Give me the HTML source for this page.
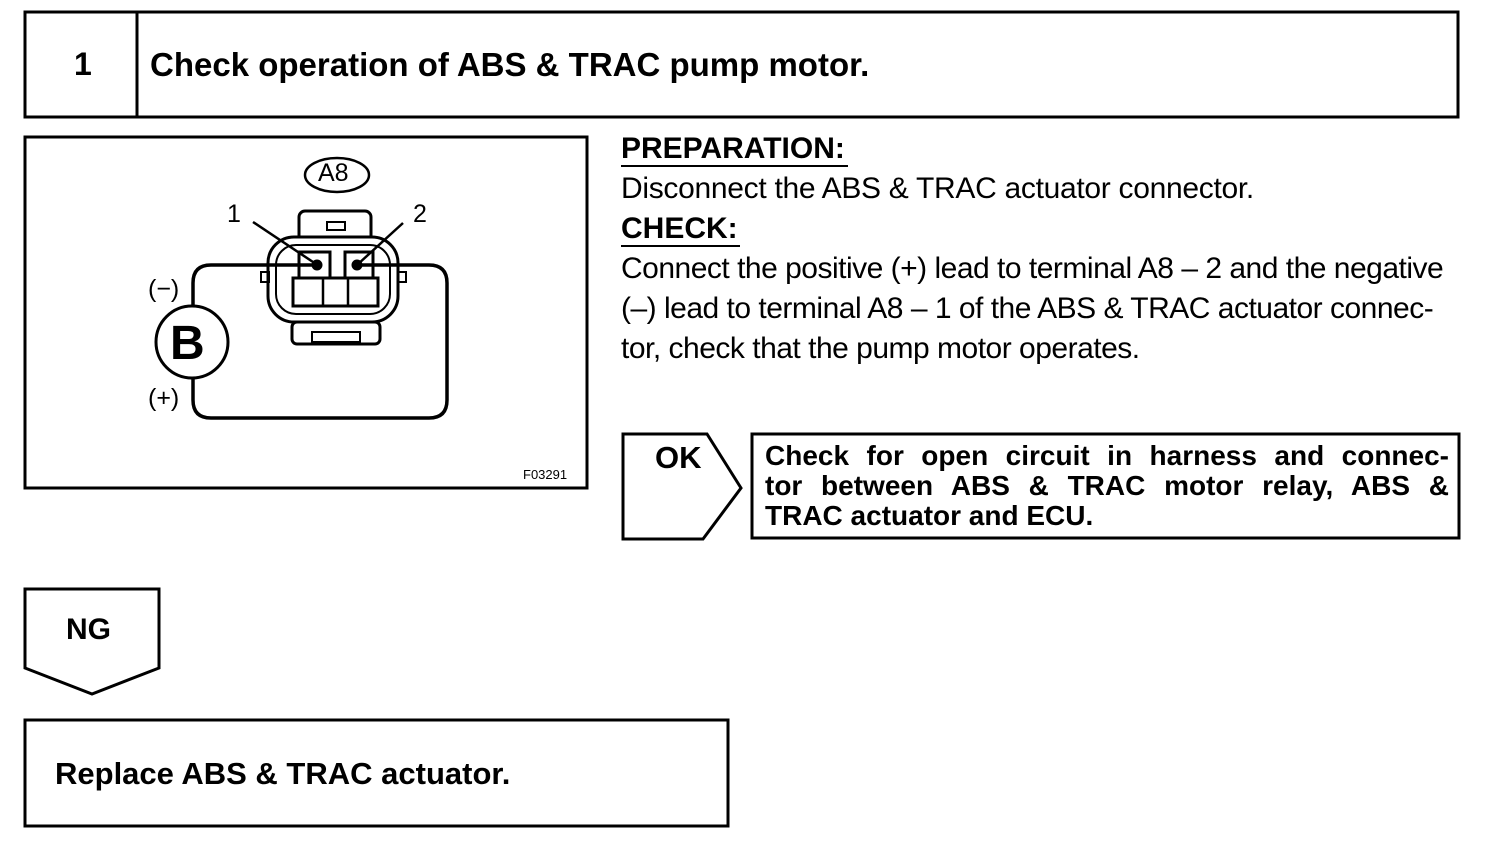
<!DOCTYPE html>
<html><head><meta charset="utf-8"><style>
body{margin:0;background:#fff;}
#c{position:relative;width:1504px;height:852px;overflow:hidden;font-family:"Liberation Sans",Arial,sans-serif;color:#000;}
.t{position:absolute;white-space:nowrap;}
.b{font-weight:bold;}
.j{position:absolute;width:684px;text-align:justify;text-align-last:justify;white-space:nowrap;font-weight:bold;font-size:28px;}
</style></head><body><div id="c">
<svg width="1504" height="852" style="position:absolute;left:0;top:0" fill="none" stroke="#000">
<rect x="25" y="12" width="1433" height="105" stroke-width="3"/>
<line x1="137" y1="12" x2="137" y2="117" stroke-width="3"/>
<rect x="25" y="137" width="562" height="351" stroke-width="3"/>
<ellipse cx="337" cy="175" rx="32" ry="17" stroke-width="2.5"/>
<rect x="299" y="211" width="72" height="40" rx="6" stroke-width="3" fill="#fff"/>
<rect x="327" y="222" width="18" height="8" stroke-width="2"/>
<rect x="268" y="237" width="130" height="85" rx="26" stroke-width="3" fill="#fff"/>
<rect x="276" y="245" width="114" height="69" rx="20" stroke-width="2"/>
<rect x="292" y="322" width="88" height="22" rx="5" stroke-width="3" fill="#fff"/>
<rect x="312" y="332" width="48" height="10" stroke-width="2"/>
<rect x="261" y="272" width="8" height="10" stroke-width="2"/>
<rect x="398" y="272" width="8" height="10" stroke-width="2"/>
<rect x="299" y="252" width="31" height="26" stroke-width="3"/>
<rect x="345" y="252" width="28" height="26" stroke-width="3"/>
<rect x="293" y="278" width="85" height="28" stroke-width="3"/>
<line x1="323" y1="278" x2="323" y2="306" stroke-width="2.5"/>
<line x1="348" y1="278" x2="348" y2="306" stroke-width="2.5"/>
<line x1="253" y1="222" x2="313" y2="262" stroke-width="2.5"/>
<line x1="403" y1="223" x2="357" y2="265" stroke-width="2.5"/>
<path d="M193 306 V283 Q193 265 211 265 H317" stroke-width="3.5"/>
<path d="M357 265 H429 Q447 265 447 283 V400 Q447 418 429 418 H211 Q193 418 193 400 V378" stroke-width="3.5"/>
<circle cx="317" cy="265" r="5" fill="#000"/>
<circle cx="357" cy="265" r="5" fill="#000"/>
<circle cx="192" cy="342" r="36" stroke-width="3"/>
<line x1="621" y1="166" x2="848" y2="166" stroke-width="2"/>
<line x1="621" y1="246" x2="740" y2="246" stroke-width="2"/>
<path d="M623 434 H707 L741 488 L703 539 H623 Z" stroke-width="3"/>
<rect x="752" y="434" width="707" height="104" stroke-width="3"/>
<path d="M25 589 H159 V668 L92 694 L25 668 Z" stroke-width="3"/>
<rect x="25" y="720" width="703" height="106" stroke-width="3"/>
</svg>
<div class="t b" style="left:74px;top:46px;font-size:32px">1</div>
<div class="t b" style="left:150px;top:46px;font-size:33px">Check operation of ABS &amp; TRAC pump motor.</div>
<div class="t" style="left:318px;top:159px;font-size:25px">A8</div>
<div class="t" style="left:227px;top:200px;font-size:25px">1</div>
<div class="t" style="left:413px;top:200px;font-size:25px">2</div>
<div class="t" style="left:148px;top:275px;font-size:25px">(−)</div>
<div class="t" style="left:148px;top:384px;font-size:25px">(+)</div>
<div class="t b" style="left:170px;top:316px;font-size:48px">B</div>
<div class="t" style="left:523px;top:467px;font-size:13px">F03291</div>
<div class="t b" style="left:621px;top:132px;font-size:30px">PREPARATION:</div>
<div class="t" style="left:621px;top:172px;font-size:30px;letter-spacing:-0.3px">Disconnect the ABS &amp; TRAC actuator connector.</div>
<div class="t b" style="left:621px;top:212px;font-size:30px">CHECK:</div>
<div class="t" style="left:621px;top:252px;font-size:30px;letter-spacing:-0.5px">Connect the positive (+) lead to terminal A8 – 2 and the negative</div>
<div class="t" style="left:621px;top:292px;font-size:30px;letter-spacing:-0.5px">(–) lead to terminal A8 – 1 of the ABS &amp; TRAC actuator connec-</div>
<div class="t" style="left:621px;top:332px;font-size:30px;letter-spacing:-0.5px">tor, check that the pump motor operates.</div>
<div class="t b" style="left:655px;top:440px;font-size:31px">OK</div>
<div class="j" style="left:765px;top:440px">Check for open circuit in harness and connec-</div>
<div class="j" style="left:765px;top:470px">tor between ABS &amp; TRAC motor relay, ABS &amp;</div>
<div class="t b" style="left:765px;top:500px;font-size:28px">TRAC actuator and ECU.</div>
<div class="t b" style="left:66px;top:613px;font-size:30px">NG</div>
<div class="t b" style="left:55px;top:756px;font-size:31px">Replace ABS &amp; TRAC actuator.</div>
</div></body></html>
